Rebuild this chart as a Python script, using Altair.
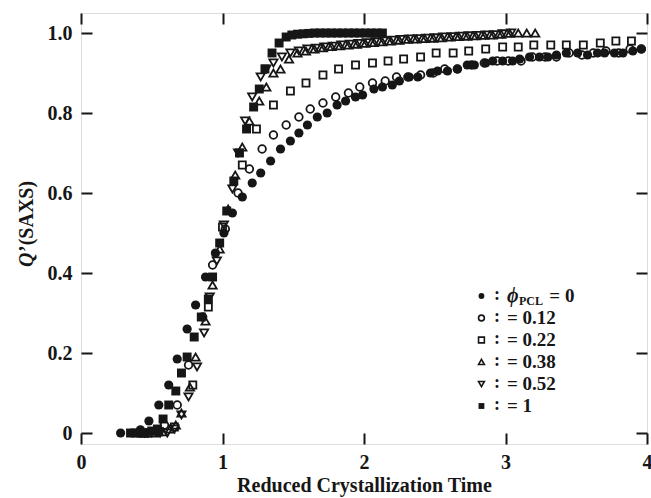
import altair as alt
import pandas as pd

# ---- data ----
phi0_x = [0.28,0.36,0.42,0.48,0.55,0.62,0.68,0.75,0.81,0.88,0.95,1.01,1.07,1.14,1.21,1.27,1.34,1.41,1.48,1.54,
          1.60,1.67,1.74,1.81,1.87,1.94,1.99,2.07,2.13,2.20,2.25,2.32,2.38,2.47,2.52,2.59,2.66,2.73,2.78,2.86,
          2.91,2.98,3.05,3.10,3.17,3.24,3.30,3.36,3.43,3.51,3.58,3.65,3.70,3.77,3.83,3.90,3.96]
phi0_y = [0.0,0.0,0.008,0.03,0.07,0.12,0.185,0.26,0.32,0.39,0.45,0.50,0.55,0.59,0.625,0.65,0.68,0.71,0.73,0.75,
          0.77,0.79,0.80,0.82,0.83,0.84,0.845,0.86,0.865,0.87,0.88,0.89,0.89,0.90,0.905,0.905,0.91,0.92,0.92,0.925,
          0.93,0.93,0.93,0.935,0.94,0.94,0.94,0.945,0.95,0.95,0.945,0.95,0.95,0.95,0.95,0.955,0.96]

phi012_x = [0.40,0.47,0.53,0.59,0.68,0.76,0.86,0.93,1.02,1.11,1.19,1.28,1.36,1.45,1.54,1.62,1.71,1.80,1.89,1.97,
            2.06,2.15,2.23,2.31,2.40,2.49,2.57,2.66,2.76,2.85,2.94,3.02,3.11,3.19,3.28,3.36,3.45,3.54,3.62,3.71,
            3.80,3.88,3.96]
phi012_y = [0.0,0.0,0.005,0.02,0.07,0.17,0.29,0.42,0.51,0.60,0.66,0.71,0.745,0.77,0.79,0.81,0.825,0.84,0.85,0.865,
            0.875,0.88,0.89,0.89,0.895,0.90,0.91,0.91,0.92,0.925,0.93,0.93,0.93,0.94,0.94,0.94,0.95,0.945,0.95,0.955,
            0.95,0.96,0.96]

phi022_x = [0.44,0.55,0.66,0.79,0.90,1.00,1.14,1.24,1.36,1.48,1.59,1.71,1.82,1.94,2.06,2.17,2.28,2.40,2.51,2.63,
            2.74,2.86,2.98,3.09,3.20,3.32,3.43,3.55,3.67,3.78,3.89]
phi022_y = [0.0,0.003,0.015,0.12,0.315,0.515,0.67,0.76,0.82,0.855,0.875,0.895,0.91,0.92,0.925,0.93,0.935,0.94,0.95,0.95,
            0.955,0.96,0.965,0.965,0.97,0.97,0.97,0.97,0.975,0.98,0.98]

phi038_x = [0.45,0.52,0.58,0.63,0.67,0.71,0.77,0.81,0.88,0.93,0.98,1.04,1.09,1.14,1.19,1.26,1.31,1.36,
            1.41,1.47,1.53,1.59,1.65,1.71,1.77,1.83,1.89,1.95,2.01,2.07,2.13,2.19,2.25,2.31,2.37,2.43,2.49,
            2.55,2.61,2.67,2.73,2.79,2.85,2.91,2.97,3.03,3.09,3.15,3.21]
phi038_y = [0.0,0.0,0.003,0.01,0.02,0.05,0.115,0.19,0.28,0.37,0.46,0.56,0.645,0.715,0.78,0.83,0.865,0.90,
            0.91,0.935,0.95,0.955,0.96,0.963,0.966,0.968,0.97,0.972,0.974,0.976,0.978,0.98,0.982,0.984,0.985,0.986,0.987,
            0.988,0.99,0.991,0.992,0.993,0.994,0.995,0.997,0.999,1.0,1.0,1.0]

phi052_x = [0.45,0.50,0.56,0.61,0.66,0.71,0.76,0.82,0.87,0.91,0.96,1.01,1.07,1.11,1.16,1.21,1.27,1.31,
            1.36,1.42,1.48,1.54,1.60,1.66,1.72,1.78,1.84,1.90,1.96,2.02,2.08,2.14,2.20,2.26,2.32,2.38,2.44,
            2.50,2.56,2.62,2.68,2.74,2.80,2.86,2.92,2.98,3.04]
phi052_y = [0.0,0.0,0.0,0.0,0.01,0.045,0.09,0.165,0.25,0.34,0.43,0.52,0.61,0.70,0.78,0.84,0.89,0.91,
            0.925,0.94,0.95,0.955,0.96,0.962,0.965,0.967,0.97,0.972,0.974,0.976,0.978,0.98,0.982,0.984,0.985,0.986,0.987,
            0.988,0.99,0.991,0.992,0.993,0.994,0.995,0.996,0.998,1.0]

phi1_x = [0.35,0.40,0.45,0.50,0.54,0.58,0.62,0.67,0.71,0.75,0.80,0.85,0.90,0.93,0.98,1.03,1.08,1.12,1.17,1.22,
          1.26,1.30,1.35,1.40,1.45,1.49,1.53,1.57,1.61,1.65,1.69,1.73,1.77,1.81,1.85,1.89,1.93,1.97,2.01,2.05,
          2.09,2.13]
phi1_y = [0.0,0.0,0.0,0.005,0.01,0.035,0.07,0.105,0.15,0.19,0.24,0.29,0.335,0.39,0.475,0.555,0.63,0.70,0.76,0.815,
          0.86,0.91,0.95,0.975,0.99,0.995,0.997,0.998,0.999,1.0,1.0,1.0,1.0,1.0,1.0,1.0,1.0,1.0,1.0,1.0,
          1.0,1.0]

legend_values = ["= 0", "= 0.12", "= 0.22", "= 0.38", "= 0.52", "= 1"]

FONT = "Liberation Serif, DejaVu Serif, serif"
INK = "#161616"

W, H = 566, 431
xs = alt.Scale(domain=[0, 4], nice=False, zero=False)
ys = alt.Scale(domain=[-0.0275, 1.05], nice=False, zero=False)

x_axis = alt.Axis(values=[0, 1, 2, 3, 4], format="d", title="Reduced Crystallization Time",
                  domain=False, ticks=False, grid=True, gridDash=[11, H - 22], gridColor=INK,
                  gridWidth=2, gridOpacity=1, labelFont=FONT, labelFontSize=20, labelFontWeight="bold",
                  labelColor=INK, labelPadding=8, titleFont=FONT, titleFontSize=20, titleFontWeight="bold",
                  titleColor=INK, titlePadding=3, labelFlush=False)
y_axis = alt.Axis(values=[0, 0.2, 0.4, 0.6, 0.8, 1.0],
                  labelExpr="datum.value == 0 ? '0' : format(datum.value, '.1f')",
                  title=None, domain=False, ticks=False, grid=True, gridDash=[11, W - 22],
                  gridColor=INK, gridWidth=2, gridOpacity=1, labelFont=FONT, labelFontSize=20,
                  labelFontWeight="bold", labelColor=INK, labelPadding=9)


def series(xv, yv, shape, filled, size, sw=1.8, axes=False):
    df = pd.DataFrame({"t": xv, "q": yv})
    m = alt.Chart(df).mark_point(shape=shape, filled=filled, size=size, color=INK,
                                 strokeWidth=sw, opacity=1)
    if axes:
        return m.encode(x=alt.X("t:Q", scale=xs, axis=x_axis), y=alt.Y("q:Q", scale=ys, axis=y_axis))
    return m.encode(x=alt.X("t:Q", scale=xs), y=alt.Y("q:Q", scale=ys))


layers = [
    series(phi0_x, phi0_y, "circle", True, 85, axes=True),
    series(phi012_x, phi012_y, "circle", False, 58),
    series(phi022_x, phi022_y, "square", False, 50),
    series(phi038_x, phi038_y, "triangle-up", False, 68),
    series(phi052_x, phi052_y, "triangle-down", False, 68),
    series(phi1_x, phi1_y, "square", True, 80),
]

# ---- y axis title: italic Q followed by ’(SAXS), rotated ----
ytitle = pd.DataFrame({"s": ["Q"]})
layers.append(alt.Chart(ytitle).mark_text(font=FONT, fontSize=20, fontWeight="bold", fontStyle="italic",
                                          color=INK, angle=270, align="left", baseline="middle")
              .encode(x=alt.value(-54), y=alt.value(254), text="s:N"))
ytitle2 = pd.DataFrame({"s": ["’(SAXS)"]})
layers.append(alt.Chart(ytitle2).mark_text(font=FONT, fontSize=20, fontWeight="bold",
                                           color=INK, angle=270, align="left", baseline="middle")
              .encode(x=alt.value(-54), y=alt.value(239), text="s:N"))

# ---- legend (placed in data coordinates inside the plot) ----
leg_rows = [0.3425, 0.2875, 0.2325, 0.1775, 0.1225, 0.0675]
leg_shapes = ["circle", "circle", "square", "triangle-up", "triangle-down", "square"]
leg_filled = [True, False, False, False, False, True]
for i in range(6):
    d = pd.DataFrame({"t": [2.83], "q": [leg_rows[i]]})
    layers.append(alt.Chart(d).mark_point(shape=leg_shapes[i], filled=leg_filled[i], size=34,
                                          color=INK, strokeWidth=1.6, opacity=1)
                  .encode(x=alt.X("t:Q", scale=xs), y=alt.Y("q:Q", scale=ys)))

colon_df = pd.DataFrame({"t": [2.94] * 6, "q": leg_rows, "s": [":"] * 6})
layers.append(alt.Chart(colon_df).mark_text(font=FONT, fontSize=18, fontWeight="bold", color=INK,
                                            baseline="middle", align="center", dy=-1)
              .encode(x=alt.X("t:Q", scale=xs), y=alt.Y("q:Q", scale=ys), text="s:N"))

val_df = pd.DataFrame({"t": [3.31] + [3.01] * 5, "q": leg_rows, "s": legend_values})
layers.append(alt.Chart(val_df).mark_text(font=FONT, fontSize=19, fontWeight="bold", color=INK,
                                          baseline="middle", align="left")
              .encode(x=alt.X("t:Q", scale=xs), y=alt.Y("q:Q", scale=ys), text="s:N"))

phi_df = pd.DataFrame({"t": [3.01], "q": [leg_rows[0]], "s": ["ϕ"]})
layers.append(alt.Chart(phi_df).mark_text(font=FONT, fontSize=20, fontWeight="bold", fontStyle="italic",
                                          color=INK, baseline="middle", align="left")
              .encode(x=alt.X("t:Q", scale=xs), y=alt.Y("q:Q", scale=ys), text="s:N"))
sub_df = pd.DataFrame({"t": [3.095], "q": [leg_rows[0]], "s": ["PCL"]})
layers.append(alt.Chart(sub_df).mark_text(font=FONT, fontSize=12, fontWeight="bold",
                                          color=INK, baseline="middle", align="left", dy=5)
              .encode(x=alt.X("t:Q", scale=xs), y=alt.Y("q:Q", scale=ys), text="s:N"))

chart = alt.layer(*layers).properties(
    width=W, height=H, autosize="none",
    padding={"left": 81, "top": 13, "right": 4, "bottom": 54},
).configure_view(stroke=INK, strokeWidth=2).configure(background="white")

chart.save("out.html", embed_options={"renderer": "svg", "actions": False})
